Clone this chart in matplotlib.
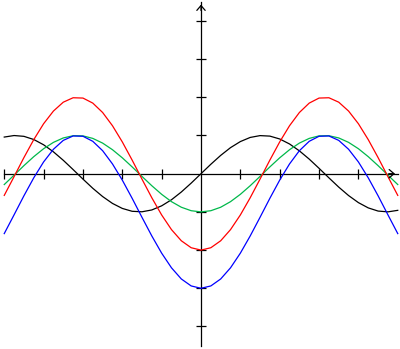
import matplotlib
matplotlib.use("Agg")
import matplotlib.pyplot as plt

# sample positions (units on the x axis)
x = [-5.0, -4.75, -4.5, -4.25, -4.0, -3.75, -3.5, -3.25, -3.0, -2.75, -2.5,
     -2.25, -2.0, -1.75, -1.5, -1.25, -1.0, -0.75, -0.5, -0.25, 0.0,
     0.25, 0.5, 0.75, 1.0, 1.25, 1.5, 1.75, 2.0, 2.25, 2.5,
     2.75, 3.0, 3.25, 3.5, 3.75, 4.0, 4.25, 4.5, 4.75, 5.0]

black = [0.959, 0.999, 0.978, 0.895, 0.757, 0.572, 0.351, 0.108, -0.141, -0.382, -0.598,
         -0.778, -0.909, -0.984, -0.997, -0.949, -0.841, -0.682, -0.479, -0.247, 0.0,
         0.247, 0.479, 0.682, 0.841, 0.949, 0.997, 0.984, 0.909, 0.778, 0.598,
         0.382, 0.141, -0.108, -0.351, -0.572, -0.757, -0.895, -0.978, -0.999, -0.959]

green = [-0.284, -0.038, 0.211, 0.446, 0.654, 0.820, 0.936, 0.994, 0.990, 0.924, 0.801,
         0.628, 0.416, 0.178, -0.071, -0.315, -0.540, -0.732, -0.878, -0.969, -1.0,
         -0.969, -0.878, -0.732, -0.540, -0.315, -0.071, 0.178, 0.416, 0.628, 0.801,
         0.924, 0.990, 0.994, 0.936, 0.820, 0.654, 0.446, 0.211, -0.038, -0.284]

red = [-0.568, -0.076, 0.422, 0.892, 1.308, 1.640, 1.872, 1.988, 1.980, 1.848, 1.602,
       1.256, 0.832, 0.356, -0.142, -0.630, -1.080, -1.464, -1.756, -1.938, -2.0,
       -1.938, -1.756, -1.464, -1.080, -0.630, -0.142, 0.356, 0.832, 1.256, 1.602,
       1.848, 1.980, 1.988, 1.872, 1.640, 1.308, 0.892, 0.422, -0.076, -0.568]

blue = [-1.568, -1.076, -0.578, -0.108, 0.308, 0.640, 0.872, 0.988, 0.980, 0.848, 0.602,
        0.256, -0.168, -0.644, -1.142, -1.630, -2.080, -2.464, -2.756, -2.938, -3.0,
        -2.938, -2.756, -2.464, -2.080, -1.630, -1.142, -0.644, -0.168, 0.256, 0.602,
        0.848, 0.980, 0.988, 0.872, 0.640, 0.308, -0.108, -0.578, -1.076, -1.568]

x_ticks = [-5, -4, -3, -2, -1, 1, 2, 3, 4]
y_ticks = [-4, -3, -2, -1, 1, 2, 3, 4]
x_axis_range = [-5.0, 5.0]
y_axis_range = [-4.5, 4.5]

fig = plt.figure(figsize=(4.0, 3.49), dpi=100)
ax = fig.add_axes([0, 0, 1, 1])
ax.set_xlim(-5.108, 5.057)
ax.set_ylim(-4.589, 4.547)
ax.axis("off")

lw = 0.9
# axes lines
ax.plot(x_axis_range, [0, 0], color="black", lw=lw)
ax.plot([0, 0], y_axis_range, color="black", lw=lw)
# arrow heads (open chevrons)
ax.annotate("", xy=(x_axis_range[1], 0), xytext=(x_axis_range[1] - 0.3, 0),
            arrowprops=dict(arrowstyle="->,head_length=0.35,head_width=0.3",
                            color="black", lw=lw))
ax.annotate("", xy=(0, y_axis_range[1]), xytext=(0, y_axis_range[1] - 0.3),
            arrowprops=dict(arrowstyle="->,head_length=0.35,head_width=0.3",
                            color="black", lw=lw))
# ticks
ax.plot(x_ticks, [0] * len(x_ticks), linestyle="none", marker="|",
        markersize=6.5, markeredgewidth=lw, color="black")
ax.plot([0] * len(y_ticks), y_ticks, linestyle="none", marker="_",
        markersize=7.5, markeredgewidth=lw, color="black")

# curves
ax.plot(x, black, color="black", lw=lw)
ax.plot(x, green, color="#00b84a", lw=lw)
ax.plot(x, red, color="#ff0000", lw=lw)
ax.plot(x, blue, color="#0000ff", lw=lw)

fig.savefig("out.png", dpi=100)
